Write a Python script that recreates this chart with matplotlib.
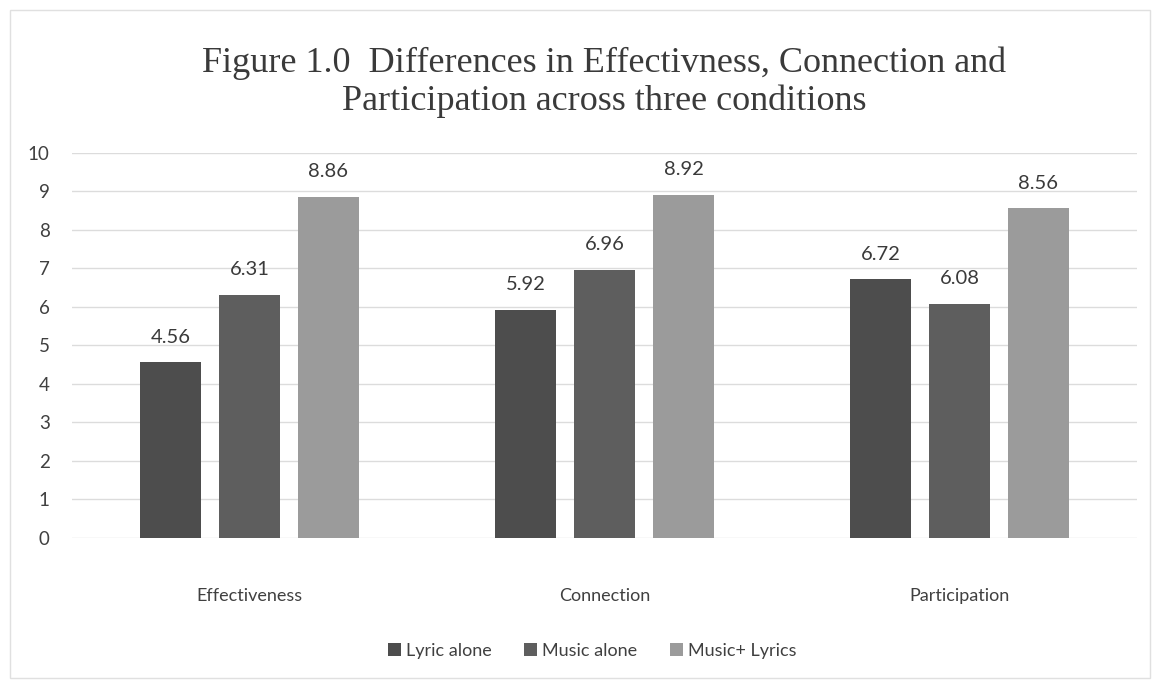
import matplotlib.pyplot as plt
import numpy as np
from matplotlib.patches import Rectangle

categories = ["Effectiveness", "Connection", "Participation"]
series = ["Lyric alone", "Music alone", "Music+ Lyrics"]
lyric_alone = [4.56, 5.92, 6.72]
music_alone = [6.31, 6.96, 6.08]
music_lyrics = [8.86, 8.92, 8.56]
colors = ["#4d4d4d", "#5e5e5e", "#9b9b9b"]

fig = plt.figure(figsize=(11.57, 6.87), dpi=100)
ax = fig.add_axes([0.0622, 0.2169, 0.9205, 0.5604])

x = np.arange(len(categories))
width = 0.172
step = 0.2225
for i, (vals, name) in enumerate(zip([lyric_alone, music_alone, music_lyrics], series)):
    pos = x + (i - 1) * step
    bars = ax.bar(pos, vals, width, color=colors[i], label=name, zorder=2)
    for b, v in zip(bars, vals):
        ax.annotate(f"{v:.2f}", (b.get_x() + b.get_width() / 2, v),
                    xytext=(0, 12), textcoords="offset points",
                    ha="center", va="bottom", fontsize=14.5,
                    family="Lato", color="#3a3a3a")

ax.set_xlim(-0.5, 2.5)
ax.set_ylim(0, 10)
ax.set_yticks(range(0, 11))
ax.set_xticks(x)
ax.set_xticklabels(categories)
ax.yaxis.grid(True, color="#dcdcdc", linewidth=1, zorder=0)
for s in ax.spines.values():
    s.set_visible(False)
ax.tick_params(axis="y", length=0, pad=16, labelsize=13.5, labelcolor="#404040")
ax.tick_params(axis="x", length=0, pad=36, labelsize=13, labelcolor="#404040")
for lab in ax.get_xticklabels() + ax.get_yticklabels():
    lab.set_family("Lato")

fig.suptitle("Figure 1.0  Differences in Effectivness, Connection and\n"
             "Participation across three conditions",
             x=0.522, y=0.932, fontsize=26, family="Liberation Serif",
             color="#3a3a3a", linespacing=1.15)

leg = fig.legend(loc="center", bbox_to_anchor=(0.512, 0.053), ncol=3,
                 frameon=False, handlelength=0.7, handleheight=0.7,
                 handletextpad=0.3, columnspacing=1.8,
                 prop={"family": "Lato", "size": 13})
for t in leg.get_texts():
    t.set_color("#404040")

# light frame around the chart area
fig.patches.append(Rectangle((10 / 1157, 9 / 687), 1140 / 1157, 668 / 687,
                             transform=fig.transFigure, fill=False,
                             edgecolor="#e0e0e0", linewidth=1))

fig.savefig("out.png", dpi=100)
